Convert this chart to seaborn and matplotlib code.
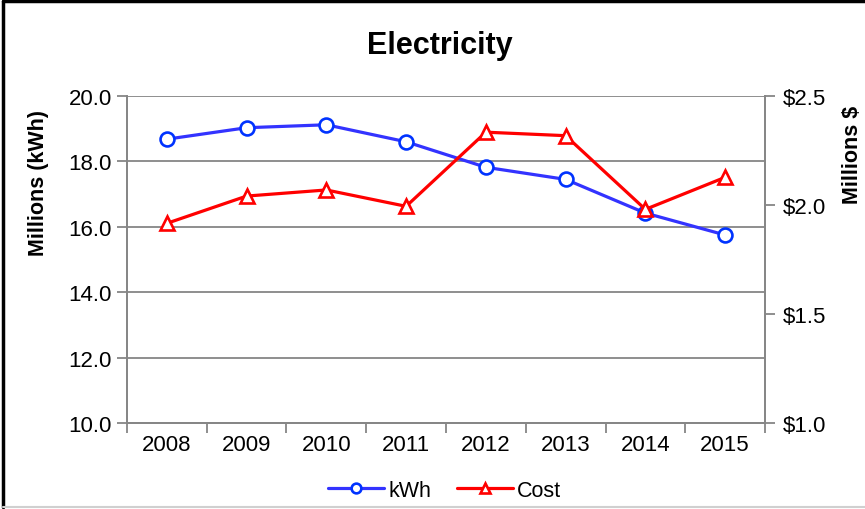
import matplotlib
matplotlib.use("Agg")
import matplotlib.pyplot as plt
import matplotlib.lines as mlines
from matplotlib.ticker import FuncFormatter, MultipleLocator
import pandas as pd
import seaborn as sns

# data
years = ["2008", "2009", "2010", "2011", "2012", "2013", "2014", "2015"]
kwh_millions = [18.68, 19.03, 19.12, 18.60, 17.82, 17.45, 16.42, 15.75]
cost_millions = [1.916, 2.041, 2.069, 1.994, 2.334, 2.318, 1.980, 2.127]

df = pd.DataFrame({"year": years, "kWh": kwh_millions, "Cost": cost_millions})

sns.set_style("white")
plt.rcParams["font.family"] = ["Liberation Sans", "DejaVu Sans"]
plt.rcParams["text.color"] = "black"
plt.rcParams["xtick.labelcolor"] = "black"
plt.rcParams["ytick.labelcolor"] = "black"

grey = "#868686"
blue_line = "#3333FF"
blue_edge = "#0033FF"
red = "#FF0000"

fig = plt.figure(figsize=(8.65, 5.10), dpi=100)
ax = fig.add_axes([0.1468, 0.1686, 0.7376, 0.6412])
ax2 = ax.twinx()

sns.lineplot(data=df, x="year", y="kWh", ax=ax, color=blue_line, lw=2.3,
             marker="o", markersize=10, markerfacecolor="white",
             markeredgecolor=blue_edge, markeredgewidth=1.9, label="kWh",
             sort=False, zorder=3)
sns.lineplot(data=df, x="year", y="Cost", ax=ax2, color=red, lw=2.3,
             marker="^", markersize=10, markerfacecolor="white",
             markeredgecolor=red, markeredgewidth=1.9, label="Cost",
             sort=False, zorder=3)

# left axis
ax.set_ylim(10, 20)
ax.yaxis.set_major_locator(MultipleLocator(2))
ax.yaxis.set_major_formatter(FuncFormatter(lambda v, p: f"{v:.1f}"))
ax.grid(axis="y", color=grey, lw=1.3)
ax.set_axisbelow(True)
ax.set_xlim(-0.5, len(years) - 0.5)
ax.set_xlabel("")
ax.set_ylabel("")

# x ticks: marks between categories, labels at centers
ax.set_xticks([i - 0.5 for i in range(len(years) + 1)])
ax.set_xticklabels([])
ax.set_xticks(range(len(years)), minor=True)
ax.set_xticklabels(years, minor=True)
ax.tick_params(axis="x", which="major", direction="out", length=7, width=1.3,
               color=grey, bottom=True)
ax.tick_params(axis="x", which="minor", length=0, labelsize=16, pad=8)
ax.tick_params(axis="y", direction="out", length=7, width=1.3, color=grey,
               left=True, labelsize=16, pad=4)

# right axis
ax2.set_ylim(1.0, 2.5)
ax2.yaxis.set_major_locator(MultipleLocator(0.5))
ax2.yaxis.set_major_formatter(FuncFormatter(lambda v, p: f"${v:.1f}"))
ax2.tick_params(axis="y", direction="out", length=7, width=1.3, color=grey,
                right=True, labelsize=16, pad=6)
ax2.set_ylabel("")

for a in (ax, ax2):
    for side in ("left", "right", "bottom"):
        a.spines[side].set_color(grey)
        a.spines[side].set_linewidth(1.3)
    a.spines["top"].set_visible(False)

ax.get_legend().remove()
ax2.get_legend().remove()

fig.text(0.508, 0.909, "Electricity", ha="center", va="center",
         fontsize=22, fontweight="bold")
fig.text(0.044, 0.641, "Millions (kWh)", ha="center", va="center",
         rotation=90, fontsize=15.5, fontweight="bold")
fig.text(0.986, 0.697, "Millions $", ha="center", va="center",
         rotation=90, fontsize=15.5, fontweight="bold")

h1, l1 = ax.get_legend_handles_labels()
h2, l2 = ax2.get_legend_handles_labels()
fig.legend(h1 + h2, l1 + l2, loc="center", bbox_to_anchor=(0.514, 0.037),
           ncol=2, frameon=False, fontsize=15.5, markerscale=0.7,
           handlelength=2.6, handletextpad=0.2, columnspacing=1.2)

# chart frame
fig.add_artist(mlines.Line2D([0.004, 0.004], [0.004, 0.996], color="black",
                             lw=2.5, transform=fig.transFigure))
fig.add_artist(mlines.Line2D([0.004, 1.0], [0.996, 0.996], color="black",
                             lw=2.5, transform=fig.transFigure))
fig.add_artist(mlines.Line2D([0.004, 1.0], [0.004, 0.004], color="#D0D0D0",
                             lw=1.5, transform=fig.transFigure))

fig.savefig("out.png", dpi=100)
